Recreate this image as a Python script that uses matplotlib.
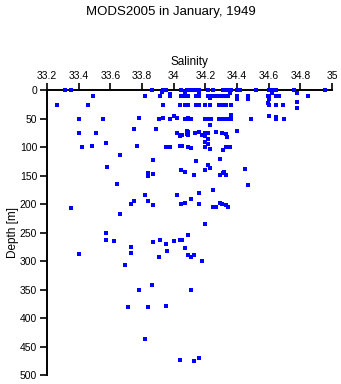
import matplotlib
matplotlib.use("Agg")
import matplotlib.pyplot as plt

title = "MODS2005 in January, 1949"
xlabel = "Salinity"
ylabel = "Depth [m]"
xticks = [33.2, 33.4, 33.6, 33.8, 34.0, 34.2, 34.4, 34.6, 34.8, 35.0]
xticklabels = ["33.2", "33.4", "33.6", "33.8", "34", "34.2", "34.4", "34.6", "34.8", "35"]
yticks = [0, 50, 100, 150, 200, 250, 300, 350, 400, 450, 500]

salinity = [
    33.313, 33.353, 33.492, 33.265, 33.460, 33.403, 33.551, 33.781, 33.403, 33.511,
    33.750, 33.889, 33.422, 33.482, 33.574, 33.769, 33.662, 33.870, 33.582, 33.838,
    33.838, 33.870, 33.643, 33.819, 33.731, 33.750, 33.841, 33.870, 33.353, 33.662,
    33.861, 33.933, 33.950, 33.929, 33.979, 33.979, 33.819, 33.912, 33.933, 34.040,
    33.907, 33.933, 33.979, 34.002, 34.019, 34.021, 34.040, 34.052, 33.952, 33.979,
    34.049, 34.021, 34.049, 34.071, 34.049, 34.071,
    34.071, 34.071, 34.090, 34.071, 34.090, 34.071, 34.090, 34.090, 34.090, 34.090,
    33.574, 33.574, 33.622, 33.731, 33.731, 33.403, 33.693, 33.870, 33.912, 33.952,
    33.958, 33.907, 34.002, 34.040, 34.055, 34.071, 34.090, 34.090, 33.781, 33.861,
    33.712, 33.838, 33.952, 33.819, 34.040,
    34.197, 34.109, 34.128, 34.178, 34.109, 34.128, 34.157,
    34.049, 34.084, 34.101, 34.118, 34.137, 34.157, 34.219, 34.248, 34.311, 34.332,
    34.346, 34.359, 34.399, 34.420, 34.518, 34.605, 34.619, 34.632, 34.647, 34.758,
    34.956,
    34.069, 34.159, 34.357, 34.622, 34.777,
    34.044, 34.063, 34.080, 34.090, 34.139, 34.157, 34.219, 34.231, 34.248, 34.265,
    34.285, 34.307, 34.326, 34.342, 34.399, 34.468, 34.594, 34.605, 34.647, 34.663,
    34.846,
    34.399, 34.468, 34.605, 34.231, 34.594, 34.777, 34.777,
    34.038, 34.069, 34.084, 34.139, 34.159, 34.195, 34.227, 34.285, 34.311, 34.332,
    34.363, 34.605, 34.647, 34.689,
    34.069, 34.084, 34.101, 34.112, 34.195, 34.216, 34.237, 34.285, 34.307, 34.332,
    34.342, 34.353, 34.363, 34.359, 34.487, 34.605, 34.647, 34.647, 34.695,
    34.229,
    34.038, 34.049, 34.084, 34.084, 34.137, 34.159, 34.181, 34.195, 34.195, 34.216,
    34.265, 34.307, 34.328, 34.338, 34.399,
    34.216, 34.195, 34.216, 34.038, 34.055, 34.090, 34.112, 34.195, 34.229, 34.311,
    34.332, 34.353,
    34.139, 34.290, 34.216, 34.229, 34.197, 34.049, 34.069, 34.126, 34.290, 34.311,
    34.332, 34.321, 34.449, 34.468, 34.248, 34.159, 34.112, 34.049, 34.071, 34.159,
    34.248, 34.265, 34.290, 34.307, 34.332, 34.342, 34.197,
]

depth = [
    0, 0, 10, 25, 25, 51, 51, 49, 75.5, 74.5,
    68, 68.5, 100, 98.5, 92.5, 97, 114, 122, 135, 146,
    150.5, 146.5, 164.5, 183.5, 200, 195, 195, 201.5, 206, 218,
    0, 0, 0, 3, 6.5, 10, 10, 10, 25, 25,
    51, 49, 51, 46, 49, 75.5, 80, 78.5, 100, 100,
    97, 184.5, 140, 144, 200, 198,
    3, 10, 10, 25, 25, 51, 49, 73, 78.5, 100,
    251, 263, 264, 276, 286, 288, 306, 266.5, 263.5, 270,
    282, 292, 264, 263.5, 263, 277.5, 254.5, 290, 351, 342.5,
    380, 380, 378, 437, 474,
    235.5, 292, 290, 299, 351, 475.5, 471,
    0, 0, 0, 0, 0, 0, 0, 0, 0, 0,
    0, 0, 0, 0, 0, 0, 0, 0, 0, 0,
    0,
    3.5, 5, 5, 4, 5,
    10, 10, 10, 10, 10, 10, 10, 10, 10, 10,
    10, 10, 10, 10, 10, 10, 10, 10, 10, 10,
    10,
    15, 15, 15, 14, 22, 21, 31,
    25, 25, 25, 25, 25, 25, 25, 25, 25, 25,
    25, 25, 25, 25,
    50, 50, 50, 50, 50, 50, 50, 50, 50, 50,
    50, 50, 50, 43, 51, 46, 47, 51, 51,
    61,
    80, 78, 72, 77, 75.5, 74, 78.5, 75.5, 80, 75.5,
    74, 75.5, 77, 81.5, 72,
    86, 90, 95, 97, 97, 100, 102, 100, 103.5, 104,
    100, 100,
    124, 121, 131, 137, 139.5, 139.5, 144, 148, 149, 146,
    149, 144, 139, 167, 175.5, 181, 191, 200, 197.5, 200,
    205.5, 204.5, 198, 200, 202, 204.5, 235.5,
]

plt.rcParams['font.family'] = ['Liberation Sans', 'DejaVu Sans']

W, H = 341, 384
fig = plt.figure(figsize=(W / 100, H / 100), dpi=100)
ax = fig.add_axes([47 / W, 1 - 375 / H, (332 - 47) / W, (375 - 90.3) / H])

ax.scatter(salinity, depth, marker='s', s=5.5, color='#0000ff', linewidths=0,
           clip_on=False, zorder=3)

ax.set_xlim(33.2, 35.0)
ax.set_ylim(500, 0)
ax.xaxis.tick_top()
ax.xaxis.set_label_position('top')
ax.set_xticks(xticks)
ax.set_xticklabels(xticklabels)
ax.set_yticks(yticks)
ax.tick_params(axis='both', direction='out', length=5, width=1.2, labelsize=7.5, pad=2, color='black')
for side in ['right', 'bottom']:
    ax.spines[side].set_visible(False)
for side in ['left', 'top']:
    ax.spines[side].set_linewidth(1.4)

ax.set_xlabel(xlabel, fontsize=8.5, labelpad=4)
ax.set_ylabel(ylabel, fontsize=8.5, labelpad=1)
fig.text(0.5, 1 - 12 / H, title, ha='center', va='center', fontsize=9.5)

fig.savefig("out.png", dpi=100)
